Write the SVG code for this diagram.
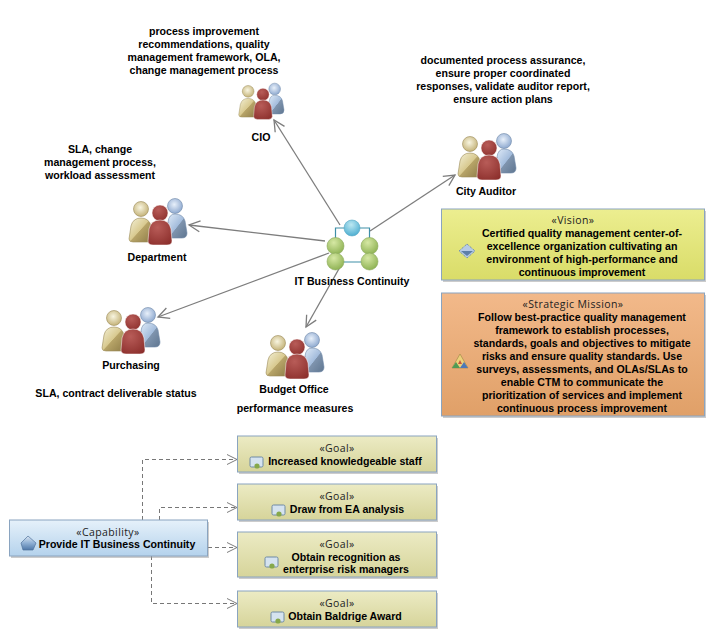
<svg xmlns="http://www.w3.org/2000/svg" width="718" height="643" viewBox="0 0 718 643">
<style>
text{font-family:"Liberation Sans",Arial,sans-serif;font-size:10.600px;font-weight:bold;fill:#000;text-anchor:middle}
text.st{font-family:"Open Sans","Liberation Sans",sans-serif;font-weight:normal;font-size:10.500px;letter-spacing:.4px;fill:#222}
.box{stroke:#8aa4c0;stroke-width:1}
.sh{fill:#9a9a9a;opacity:.5}
.solid{fill:none;stroke:#7d7d7d;stroke-width:1.300;marker-end:url(#open)}
.dash{fill:none;stroke:#777;stroke-width:1;stroke-dasharray:4 3;marker-end:url(#opend)}
.teal{fill:none;stroke:#3f8fa8;stroke-width:1.200}
</style>
<defs>
<marker id="open" markerUnits="userSpaceOnUse" markerWidth="16" markerHeight="16" refX="12" refY="7" orient="auto"><path d="M1 1.500L12 7L1 12.500" fill="none" stroke="#7d7d7d" stroke-width="1.300"/></marker>
<marker id="opend" markerUnits="userSpaceOnUse" markerWidth="14" markerHeight="14" refX="11" refY="6" orient="auto"><path d="M1 1L11 6L1 11" fill="none" stroke="#7d7d7d" stroke-width="1"/></marker>
<linearGradient id="gy" x1="0" y1="0" x2="1" y2="1"><stop offset="0" stop-color="#f4f1d8"/><stop offset=".5" stop-color="#d8c98f"/><stop offset=".52" stop-color="#b7a468"/><stop offset="1" stop-color="#8f7d48"/></linearGradient>
<linearGradient id="gb" x1="0" y1="0" x2="1" y2="1"><stop offset="0" stop-color="#dfeaf7"/><stop offset=".5" stop-color="#a3bcdc"/><stop offset=".52" stop-color="#7f94ae"/><stop offset="1" stop-color="#5f7690"/></linearGradient>
<radialGradient id="hy" cx=".45" cy=".4" r=".7"><stop offset="0" stop-color="#f8f5e0"/><stop offset="1" stop-color="#bca868"/></radialGradient>
<radialGradient id="hb" cx=".45" cy=".4" r=".7"><stop offset="0" stop-color="#e8f0fa"/><stop offset="1" stop-color="#7f9dc8"/></radialGradient>
<radialGradient id="gr" cx=".4" cy=".3" r=".8"><stop offset="0" stop-color="#b85c58"/><stop offset="1" stop-color="#8c2f2c"/></radialGradient>
<radialGradient id="gg" cx=".4" cy=".3" r=".8"><stop offset="0" stop-color="#d6e8a4"/><stop offset="1" stop-color="#86ac4a"/></radialGradient>
<radialGradient id="gc" cx=".45" cy=".3" r=".8"><stop offset="0" stop-color="#bde8f2"/><stop offset="1" stop-color="#3ea6cc"/></radialGradient>
<linearGradient id="fv" x1="0" y1="0" x2="0" y2="1"><stop offset="0" stop-color="#ecee90"/><stop offset="1" stop-color="#d9dc68"/></linearGradient>
<linearGradient id="fm" x1="0" y1="0" x2="0" y2="1"><stop offset="0" stop-color="#f2b98a"/><stop offset="1" stop-color="#e0a068"/></linearGradient>
<linearGradient id="fc" x1="0" y1="0" x2="0" y2="1"><stop offset="0" stop-color="#e6f1fa"/><stop offset="1" stop-color="#b4d2ec"/></linearGradient>
<linearGradient id="fg" x1="0" y1="0" x2="0" y2="1"><stop offset="0" stop-color="#ecebc4"/><stop offset="1" stop-color="#d6d49a"/></linearGradient>
<linearGradient id="pt" x1="0" y1="0" x2="0" y2="1"><stop offset="0" stop-color="#dbe6f2"/><stop offset=".5" stop-color="#8fb0d4"/><stop offset="1" stop-color="#4f78a8"/></linearGradient>
<g id="people">
<circle cx="47" cy="9" r="7.500" fill="url(#hb)" stroke="#6f88a8" stroke-width=".6"/>
<path d="M40 41V25Q41 17 47 17Q55 17 57 24L59 36Q59 41 54 41Z" fill="url(#gb)" stroke="#6f88a8" stroke-width=".6"/>
<circle cx="13" cy="12" r="7.500" fill="url(#hy)" stroke="#9a8a58" stroke-width=".6"/>
<path d="M1 42L3 29Q5 21 13 21Q21 21 23 29V45H5Q1 45 1 42Z" fill="url(#gy)" stroke="#9a8a58" stroke-width=".6"/>
<circle cx="32" cy="16" r="8" fill="url(#gr)" stroke="#fff" stroke-width=".5"/>
<path d="M20 44L21 32Q23 23 32 23Q41 23 43 32L44 44Q44 48 39 48H25Q20 48 20 44Z" fill="url(#gr)" stroke="#fff" stroke-width=".5"/>
</g>
<g id="goalicon"><rect x="0" y="0" width="13" height="10" rx="1.500" fill="#d5e3ef" stroke="#6f8aa5"/><circle cx="7" cy="9" r="2.600" fill="#86a84a"/></g>
</defs>
<g id="connectors">
<path class="solid" d="M340 225L274 120"/>
<path class="solid" d="M370 231L455 175"/>
<path class="solid" d="M325 241L189 225"/>
<path class="solid" d="M329 253L158 317"/>
<path class="solid" d="M340 267L306 327"/>
<path class="dash" d="M142.500 520V459.500H237"/>
<path class="dash" d="M159.500 520V507.500H237"/>
<path class="dash" d="M208 547.500H237"/>
<path class="dash" d="M151.500 556V603.500H237"/>
</g>
<g id="note-cio"><text x="204" y="35">process improvement</text><text x="204" y="48">recommendations, quality</text><text x="204" y="61">management framework, OLA,</text><text x="204" y="74">change management process</text></g>
<g id="note-auditor"><text x="503" y="64">documented process assurance,</text><text x="503" y="77">ensure proper coordinated</text><text x="503" y="90">responses, validate auditor report,</text><text x="503" y="103">ensure action plans</text></g>
<g id="note-department"><text x="100" y="153">SLA, change</text><text x="100" y="166">management process,</text><text x="100" y="179">workload assessment</text></g>
<g id="note-purchasing"><text x="116" y="397">SLA, contract deliverable status</text></g>
<g id="note-budget"><text x="295" y="412">performance measures</text></g>
<g id="cio"><use href="#people" transform="translate(238 82) scale(.78)"/><text x="261" y="141">CIO</text></g>
<g id="auditor"><use href="#people" transform="translate(457 132)"/><text x="486" y="195">City Auditor</text></g>
<g id="department"><use href="#people" transform="translate(128 197)"/><text x="157" y="261">Department</text></g>
<g id="purchasing"><use href="#people" transform="translate(101 306)"/><text x="131" y="369">Purchasing</text></g>
<g id="budget"><use href="#people" transform="translate(265 331)"/><text x="294" y="393">Budget Office</text></g>
<g id="it-bc">
<path class="teal" d="M335.500 246V228H369.500V246M335.500 262H369.500"/>
<circle cx="352" cy="228" r="8" fill="url(#gc)" stroke="#58a8c4" stroke-width=".6"/>
<circle cx="335.500" cy="246" r="8.500" fill="url(#gg)" stroke="#8aa85a" stroke-width=".6"/>
<circle cx="369.500" cy="246" r="8.500" fill="url(#gg)" stroke="#8aa85a" stroke-width=".6"/>
<circle cx="335.500" cy="261.500" r="8.500" fill="url(#gg)" stroke="#8aa85a" stroke-width=".6"/>
<circle cx="369.500" cy="261.500" r="8.500" fill="url(#gg)" stroke="#8aa85a" stroke-width=".6"/>
<text x="352" y="285">IT Business Continuity</text>
</g>
<g id="vision">
<rect class="sh" x="443" y="211" width="263" height="71"/>
<rect class="box" x="441.500" y="209" width="263" height="71" fill="url(#fv)"/>
<path d="M467 244L475 251L467 258L459 251Z" fill="#b7cbe6" stroke="#5e7fa8" stroke-dasharray="1 1"/><path d="M461 251H473L467 256Z" fill="#5e7fa8"/>
<text class="st" x="573" y="224">«Vision»</text>
<text x="582" y="237">Certified quality management center-of-</text><text x="582" y="250">excellence organization cultivating an</text><text x="582" y="263">environment of high-performance and</text><text x="582" y="276">continuous improvement</text>
</g>
<g id="mission">
<rect class="sh" x="443" y="295" width="263" height="123"/>
<rect class="box" x="441.500" y="293" width="263" height="123" fill="url(#fm)"/>
<path d="M460 354L468 368H452Z" fill="#ecd07a" stroke="#8a7a3a" stroke-width=".5"/><path d="M456 362L460 368H452Z" fill="#4f9a55"/><path d="M464 362L468 368H460Z" fill="#4d78b8"/><path d="M460 360L462 364H458Z" fill="#c8553d"/>
<text class="st" x="573" y="308">«Strategic Mission»</text>
<text x="582" y="321">Follow best-practice quality management</text><text x="582" y="334">framework to establish processes,</text><text x="582" y="347">standards, goals and objectives to mitigate</text><text x="582" y="360">risks and ensure quality standards. Use</text><text x="582" y="373">surveys, assessments, and OLAs/SLAs to</text><text x="582" y="386">enable CTM to communicate the</text><text x="582" y="399">prioritization of services and implement</text><text x="582" y="412">continuous process improvement</text>
</g>
<g id="capability">
<rect class="sh" x="11" y="522" width="198" height="36"/>
<rect class="box" x="9.500" y="520" width="198" height="36" fill="url(#fc)"/>
<path d="M28 536L36 543L33 550H23L21 543Z" fill="url(#pt)" stroke="#50729c" stroke-width=".7"/>
<text class="st" x="108" y="536">«Capability»</text>
<text x="117" y="548">Provide IT Business Continuity</text>
</g>
<g id="goal1"><rect class="sh" x="239" y="438" width="199" height="36"/><rect class="box" x="237.500" y="436" width="199" height="36" fill="url(#fg)"/><use href="#goalicon" transform="translate(250 457)"/><text class="st" x="337" y="452">«Goal»</text><text x="345" y="465">Increased knowledgeable staff</text></g>
<g id="goal2"><rect class="sh" x="239" y="486" width="199" height="36"/><rect class="box" x="237.500" y="484" width="199" height="36" fill="url(#fg)"/><use href="#goalicon" transform="translate(272 505)"/><text class="st" x="337" y="500">«Goal»</text><text x="347" y="513">Draw from EA analysis</text></g>
<g id="goal3"><rect class="sh" x="239" y="534" width="199" height="45"/><rect class="box" x="237.500" y="532" width="199" height="45" fill="url(#fg)"/><use href="#goalicon" transform="translate(265 557)"/><text class="st" x="337" y="548">«Goal»</text><text x="346" y="561">Obtain recognition as</text><text x="346" y="573">enterprise risk managers</text></g>
<g id="goal4"><rect class="sh" x="239" y="593" width="199" height="36"/><rect class="box" x="237.500" y="591" width="199" height="36" fill="url(#fg)"/><use href="#goalicon" transform="translate(271 612)"/><text class="st" x="337" y="607">«Goal»</text><text x="345" y="620">Obtain Baldrige Award</text></g>
</svg>
